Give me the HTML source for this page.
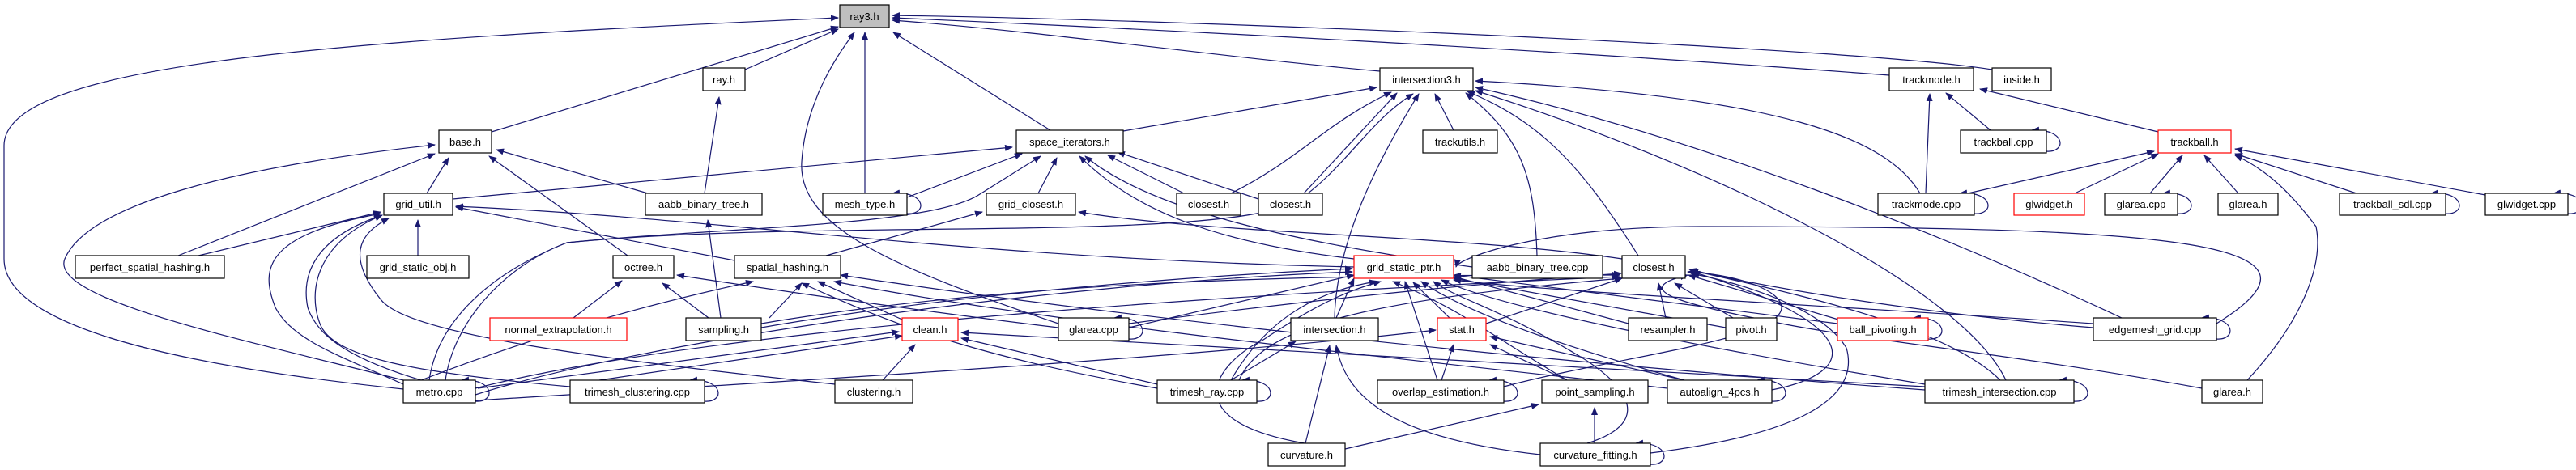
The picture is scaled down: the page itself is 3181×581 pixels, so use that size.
<!DOCTYPE html>
<html><head><meta charset="utf-8"><style>
html,body{margin:0;padding:0;background:#fff;}
svg{display:block}
text{font-family:"Liberation Sans",sans-serif;font-size:13px;fill:#000}
.e{fill:none;stroke:#191970;stroke-width:1.2}
.n{fill:#fff;stroke:#000;stroke-width:1.2}
.r{fill:#fff;stroke:#f00;stroke-width:1.2}
</style></head><body>
<svg width="3181" height="581" viewBox="0 0 3181 581" xmlns="http://www.w3.org/2000/svg">
<defs><marker id="a" markerWidth="10" markerHeight="8" refX="9" refY="4" orient="auto" markerUnits="userSpaceOnUse"><path d="M0,0 L10,4 L0,8 z" fill="#191970"/></marker></defs>
<g class="e" marker-end="url(#a)">
<path d="M498,481 C200,450 5,400 5,320 L5,180 C5,80 400,50 1035,22"/>
<path d="M607,163 L1035,33"/>
<path d="M920,86 L1035,36"/>
<path d="M1068,239 L1068,40"/>
<path d="M1297,161 L1103,40"/>
<path d="M1704,88 C1500,70 1300,40 1102,25"/>
<path d="M2333,93 C1900,60 1400,35 1102,22"/>
<path d="M2460,86 C2300,60 1500,25 1102,19"/>
<path d="M1307,400 C1100,330 985,280 990,200 C995,120 1040,60 1055,40"/>
<path d="M527,239 L554,195"/>
<path d="M220,316 L537,190"/>
<path d="M498,470 C300,420 60,370 80,320 C110,250 300,205 537,179"/>
<path d="M800,239 L613,185"/>
<path d="M775,316 L604,193"/>
<path d="M245,316 L470,262"/>
<path d="M516,316 L516,272"/>
<path d="M498,475 C420,440 360,420 340,380 C320,330 330,290 470,264"/>
<path d="M520,470 C420,440 390,410 380,380 C370,330 400,290 472,266"/>
<path d="M704,478 C500,460 410,440 395,400 C380,360 390,300 472,266"/>
<path d="M1031,475 C700,440 500,410 470,370 C430,320 440,290 480,270"/>
<path d="M559,246 L1250,182"/>
<path d="M870,239 L888,120"/>
<path d="M890,393 L874,272"/>
<path d="M1020,316 L1213,262"/>
<path d="M907,322 L563,256"/>
<path d="M1282,239 L1305,195"/>
<path d="M1462,239 L1368,192"/>
<path d="M1554,246 L1380,188"/>
<path d="M1120,244 L1262,190"/>
<path d="M530,470 C540,400 600,340 700,300 C900,280 1150,280 1210,240 L1285,193"/>
<path d="M1672,320 C1500,300 1400,260 1333,193"/>
<path d="M1818,330 C1600,300 1420,260 1340,193"/>
<path d="M1387,162 L1700,108"/>
<path d="M1610,239 L1725,115"/>
<path d="M1520,239 C1600,200 1640,150 1718,114"/>
<path d="M1795,161 L1772,116"/>
<path d="M1898,316 C1895,220 1880,170 1810,115"/>
<path d="M2023,316 C1950,200 1900,150 1812,113"/>
<path d="M1648,393 C1650,300 1700,200 1752,116"/>
<path d="M550,470 C560,400 620,330 700,300 C1000,270 1500,300 1600,250 C1660,210 1690,150 1745,116"/>
<path d="M2371,239 C2330,170 2200,120 1822,100"/>
<path d="M2620,393 C2400,290 2100,170 1822,108"/>
<path d="M2477,470 C2420,350 2100,200 1822,112"/>
<path d="M2458,161 L2403,115"/>
<path d="M2665,163 L2445,110"/>
<path d="M2378,239 L2383,116"/>
<path d="M2430,239 L2660,187"/>
<path d="M2562,239 L2665,190"/>
<path d="M2655,239 L2695,192"/>
<path d="M2764,239 L2722,192"/>
<path d="M2910,239 L2760,190"/>
<path d="M3069,241 L2760,184"/>
<path d="M2775,470 C2840,400 2870,330 2860,280 C2830,240 2800,210 2760,192"/>
<path d="M1672,330 C1200,320 900,270 563,255"/>
<path d="M2003,320 C1800,290 1500,290 1332,262"/>
<path d="M2057,393 L2048,350"/>
<path d="M2140,393 L2068,350"/>
<path d="M2270,395 L2085,340"/>
<path d="M940,400 C1300,340 1700,340 2000,340"/>
<path d="M587,480 C900,400 1600,360 2000,342"/>
<path d="M1394,400 C1700,360 1900,345 2002,338"/>
<path d="M1835,400 L2003,344"/>
<path d="M1530,470 C1560,400 1700,370 2003,344"/>
<path d="M1857,478 C2000,440 2200,420 2200,380 C2200,360 2150,340 2084,336"/>
<path d="M2188,482 C2300,460 2300,400 2090,336"/>
<path d="M2585,405 C2400,390 2200,360 2086,333"/>
<path d="M2470,470 C2400,400 2200,360 2088,334"/>
<path d="M2038,560 C2200,540 2300,500 2280,430 C2250,380 2150,350 2088,338"/>
<path d="M940,405 C1200,360 1500,340 1670,332"/>
<path d="M587,488 C800,420 1300,350 1670,336"/>
<path d="M1394,405 L1672,340"/>
<path d="M1650,393 L1672,344"/>
<path d="M1790,393 L1745,349"/>
<path d="M1775,470 L1735,348"/>
<path d="M1520,470 C1560,400 1620,360 1700,348"/>
<path d="M1611,548 C1450,520 1500,450 1560,420 C1620,380 1660,360 1705,348"/>
<path d="M1935,470 C1850,420 1800,380 1720,348"/>
<path d="M2080,470 C1900,420 1800,380 1755,348"/>
<path d="M2377,475 C2100,430 1850,380 1780,346"/>
<path d="M2585,400 C2300,380 1900,360 1795,346"/>
<path d="M1960,548 C2050,520 2000,470 1950,440 C1850,380 1800,370 1770,348"/>
<path d="M2131,405 L1795,344"/>
<path d="M2269,400 L1795,340"/>
<path d="M2011,400 L1795,342"/>
<path d="M950,393 L990,350"/>
<path d="M520,470 C650,420 780,380 930,348"/>
<path d="M1429,480 C1200,440 1100,400 990,350"/>
<path d="M1114,395 L1010,348"/>
<path d="M2059,480 C1700,440 1300,400 1030,348"/>
<path d="M2377,482 C1800,440 1300,380 1038,340"/>
<path d="M708,393 L768,347"/>
<path d="M875,393 L818,350"/>
<path d="M1307,405 C1100,380 900,350 836,340"/>
<path d="M590,480 L1110,410"/>
<path d="M740,470 L1114,415"/>
<path d="M1090,470 L1130,426"/>
<path d="M1429,475 L1187,418"/>
<path d="M2377,478 L1187,411"/>
<path d="M1780,470 L1795,426"/>
<path d="M1935,470 L1840,426"/>
<path d="M2080,470 L1840,416"/>
<path d="M587,495 C1000,470 1500,440 1773,408"/>
<path d="M1612,548 L1642,427"/>
<path d="M1902,562 C1700,540 1660,480 1650,427"/>
<path d="M1520,470 L1600,422"/>
<path d="M1969,548 L1969,504"/>
<path d="M1661,555 L1900,500"/>
<path d="M2719,480 C2500,440 2300,420 2200,400 C2100,380 2000,360 2084,340"/>
<path d="M2737,400 C2900,300 2700,280 2100,280 C1900,280 1800,320 1798,330"/>
</g>
<g class="e" marker-end="url(#a)">
<path d="M587,496 C612,498 612,468 570,470"/>
<path d="M870,496 C895,498 895,468 852,470"/>
<path d="M1120,264 C1145,266 1145,236 1102,239"/>
<path d="M1394,419 C1419,421 1419,391 1376,393"/>
<path d="M1552,496 C1577,498 1577,468 1534,470"/>
<path d="M1857,496 C1882,498 1882,468 1839,470"/>
<path d="M2188,496 C2213,498 2213,468 2170,470"/>
<path d="M2038,574 C2063,576 2063,546 2020,548"/>
<path d="M2381,419 C2406,421 2406,391 2363,393"/>
<path d="M2737,419 C2762,421 2762,391 2719,393"/>
<path d="M2561,496 C2586,498 2586,468 2543,470"/>
<path d="M2438,264 C2463,266 2463,236 2420,239"/>
<path d="M2527,187 C2552,189 2552,159 2509,161"/>
<path d="M2689,264 C2714,266 2714,236 2671,239"/>
<path d="M3020,264 C3045,266 3045,236 3002,239"/>
<path d="M3171,264 C3196,266 3196,236 3153,239"/>
</g>
<g>
<rect x="1037" y="6" width="61" height="28" fill="#bfbfbf" stroke="#000" stroke-width="1.2"/><text x="1067.5" y="25" text-anchor="middle">ray3.h</text>
<g text-anchor="middle">
<rect class="n" x="868" y="84" width="52" height="28"/><text x="894" y="103">ray.h</text>
<rect class="n" x="1704" y="84" width="115" height="28"/><text x="1761.5" y="103">intersection3.h</text>
<rect class="n" x="2333" y="84" width="104" height="28"/><text x="2385" y="103">trackmode.h</text>
<rect class="n" x="2460" y="84" width="73" height="28"/><text x="2496.5" y="103">inside.h</text>
<rect class="n" x="542" y="161" width="65" height="28"/><text x="574.5" y="180">base.h</text>
<rect class="n" x="1255" y="161" width="132" height="28"/><text x="1321" y="180">space_iterators.h</text>
<rect class="n" x="1757" y="161" width="92" height="28"/><text x="1803" y="180">trackutils.h</text>
<rect class="n" x="2421" y="161" width="106" height="28"/><text x="2474" y="180">trackball.cpp</text>
<rect class="r" x="2665" y="161" width="90" height="28"/><text x="2710" y="180">trackball.h</text>
<rect class="n" x="474" y="239" width="85" height="27"/><text x="516.5" y="257">grid_util.h</text>
<rect class="n" x="797" y="239" width="144" height="27"/><text x="869" y="257">aabb_binary_tree.h</text>
<rect class="n" x="1016" y="239" width="104" height="27"/><text x="1068" y="257">mesh_type.h</text>
<rect class="n" x="1218" y="239" width="110" height="27"/><text x="1273" y="257">grid_closest.h</text>
<rect class="n" x="1453" y="239" width="79" height="27"/><text x="1492.5" y="257">closest.h</text>
<rect class="n" x="1554" y="239" width="79" height="27"/><text x="1593.5" y="257">closest.h</text>
<rect class="n" x="2319" y="239" width="119" height="27"/><text x="2378.5" y="257">trackmode.cpp</text>
<rect class="r" x="2487" y="239" width="87" height="27"/><text x="2530.5" y="257">glwidget.h</text>
<rect class="n" x="2599" y="239" width="90" height="27"/><text x="2644" y="257">glarea.cpp</text>
<rect class="n" x="2739" y="239" width="74" height="27"/><text x="2776" y="257">glarea.h</text>
<rect class="n" x="2889" y="239" width="131" height="27"/><text x="2954.5" y="257">trackball_sdl.cpp</text>
<rect class="n" x="3069" y="239" width="102" height="27"/><text x="3120" y="257">glwidget.cpp</text>
<rect class="n" x="93" y="316" width="184" height="28"/><text x="185" y="335">perfect_spatial_hashing.h</text>
<rect class="n" x="453" y="316" width="126" height="28"/><text x="516" y="335">grid_static_obj.h</text>
<rect class="n" x="757" y="316" width="75" height="28"/><text x="794.5" y="335">octree.h</text>
<rect class="n" x="907" y="316" width="131" height="28"/><text x="972.5" y="335">spatial_hashing.h</text>
<rect class="r" x="1672" y="316" width="123" height="28"/><text x="1733.5" y="335">grid_static_ptr.h</text>
<rect class="n" x="1818" y="316" width="161" height="28"/><text x="1898.5" y="335">aabb_binary_tree.cpp</text>
<rect class="n" x="2003" y="316" width="78" height="28"/><text x="2042" y="335">closest.h</text>
<rect class="r" x="605" y="393" width="169" height="28"/><text x="689.5" y="412">normal_extrapolation.h</text>
<rect class="n" x="847" y="393" width="93" height="28"/><text x="893.5" y="412">sampling.h</text>
<rect class="r" x="1114" y="393" width="69" height="28"/><text x="1148.5" y="412">clean.h</text>
<rect class="n" x="1307" y="393" width="87" height="28"/><text x="1350.5" y="412">glarea.cpp</text>
<rect class="n" x="1594" y="393" width="108" height="28"/><text x="1648" y="412">intersection.h</text>
<rect class="r" x="1775" y="393" width="60" height="28"/><text x="1805" y="412">stat.h</text>
<rect class="n" x="2011" y="393" width="97" height="28"/><text x="2059.5" y="412">resampler.h</text>
<rect class="n" x="2131" y="393" width="63" height="28"/><text x="2162.5" y="412">pivot.h</text>
<rect class="r" x="2269" y="393" width="112" height="28"/><text x="2325" y="412">ball_pivoting.h</text>
<rect class="n" x="2585" y="393" width="152" height="28"/><text x="2661" y="412">edgemesh_grid.cpp</text>
<rect class="n" x="498" y="470" width="89" height="28"/><text x="542.5" y="489">metro.cpp</text>
<rect class="n" x="704" y="470" width="166" height="28"/><text x="787" y="489">trimesh_clustering.cpp</text>
<rect class="n" x="1031" y="470" width="96" height="28"/><text x="1079" y="489">clustering.h</text>
<rect class="n" x="1429" y="470" width="123" height="28"/><text x="1490.5" y="489">trimesh_ray.cpp</text>
<rect class="n" x="1701" y="470" width="156" height="28"/><text x="1779" y="489">overlap_estimation.h</text>
<rect class="n" x="1904" y="470" width="131" height="28"/><text x="1969.5" y="489">point_sampling.h</text>
<rect class="n" x="2059" y="470" width="129" height="28"/><text x="2123.5" y="489">autoalign_4pcs.h</text>
<rect class="n" x="2377" y="470" width="184" height="28"/><text x="2469" y="489">trimesh_intersection.cpp</text>
<rect class="n" x="2719" y="470" width="75" height="28"/><text x="2756.5" y="489">glarea.h</text>
<rect class="n" x="1566" y="548" width="95" height="28"/><text x="1613.5" y="567">curvature.h</text>
<rect class="n" x="1902" y="548" width="136" height="28"/><text x="1970" y="567">curvature_fitting.h</text>
</g></g>
</svg>
</body></html>
